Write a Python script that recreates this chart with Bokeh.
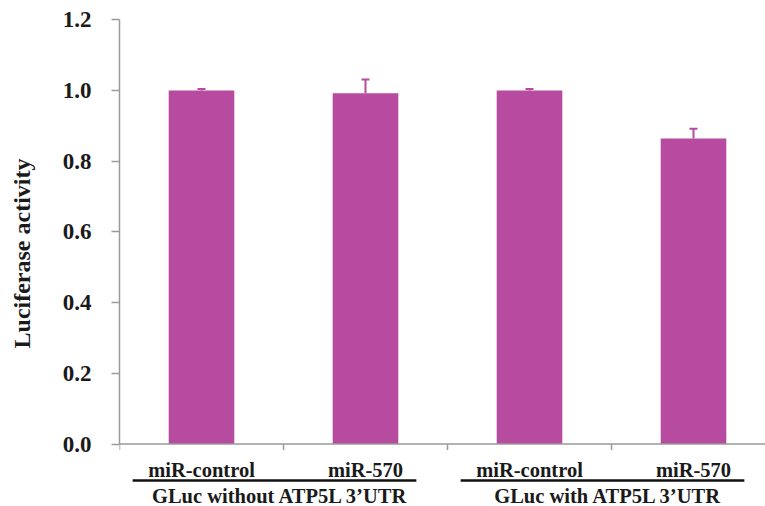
from bokeh.plotting import figure
from bokeh.models import Range1d, FixedTicker, ColumnDataSource, Whisker, TeeHead
from bokeh.core.properties import value
from bokeh.embed import file_html
from bokeh.resources import INLINE

# ---- data ----
categories = ["miR-control", "miR-570", "miR-control", "miR-570"]
groups = ["GLuc without ATP5L 3\u2019UTR", "GLuc with ATP5L 3\u2019UTR"]
group_members = [[0, 1], [2, 3]]
values = [1.0, 0.992, 1.0, 0.864]
errors = [0.004, 0.039, 0.004, 0.028]
y_ticks = [0.0, 0.2, 0.4, 0.6, 0.8, 1.0, 1.2]
y_tick_labels = ["0.0", "0.2", "0.4", "0.6", "0.8", "1.0", "1.2"]

BAR = "#B74B9F"
FONT = "Liberation Serif"
PX = 1.0 / 353.5  # one pixel in data units (y)

xs = [i + 0.5 for i in range(len(categories))]
X_END = 3.939

p = figure(width=765, height=506, output_backend="svg", toolbar_location=None,
           x_range=Range1d(0, X_END), y_range=Range1d(-0.1768, 1.2546),
           x_axis_location=None, min_border_left=119, min_border_right=0,
           min_border_top=0, min_border_bottom=0)
p.outline_line_color = None
p.xgrid.visible = False
p.ygrid.visible = False
p.background_fill_color = "white"
p.border_fill_color = "white"

# bars
p.vbar(x=xs, top=values, width=0.4, fill_color=BAR, line_color=None)

# error bars (upper only)
src = ColumnDataSource(dict(base=xs, lower=values,
                            upper=[v + e for v, e in zip(values, errors)]))
p.add_layout(Whisker(base="base", lower="lower", upper="upper", source=src,
                     line_color=BAR, line_width=2, lower_head=None,
                     upper_head=TeeHead(size=8, line_color=BAR, line_width=2)))

# y axis
ya = p.yaxis[0]
ya.ticker = FixedTicker(ticks=y_ticks)
ya.major_label_overrides = {t: l for t, l in zip(y_ticks, y_tick_labels)}
ya.bounds = (y_ticks[0], y_ticks[-1])
ya.axis_line_color = "#9a9a9a"
ya.axis_line_width = 1.5
ya.major_tick_line_color = "#9a9a9a"
ya.major_tick_line_width = 1.5
ya.major_tick_out = 8
ya.major_tick_in = 0
ya.minor_tick_out = 0
ya.minor_tick_in = 0
ya.major_label_standoff = 20
ya.major_label_text_font = FONT
ya.major_label_text_font_style = "bold"
ya.major_label_text_font_size = "23px"
ya.major_label_text_color = "#1a1a1a"
ya.axis_label = "Luciferase activity"
ya.axis_label_text_font = FONT
ya.axis_label_text_font_style = "bold"
ya.axis_label_text_font_size = "24px"
ya.axis_label_text_color = "#1a1a1a"
ya.axis_label_standoff = 25

# x axis line and boundary ticks
n = len(categories)
p.segment(x0=[0], y0=[0], x1=[X_END], y1=[0], line_color="#9a9a9a", line_width=1.5)
bounds_x = list(range(n))
p.segment(x0=bounds_x, y0=[0] * n, x1=bounds_x, y1=[-6 * PX] * n,
          line_color="#9a9a9a", line_width=1.5)

# category labels
p.text(x=xs, y=[-25.5 * PX] * n, text=categories, text_font=value(FONT),
       text_font_style="bold", text_font_size="20.5px", text_color="#1a1a1a",
       text_align="center", text_baseline="middle")

# group lines and labels
gx0 = [m[0] + 0.08 for m in group_members]
gx1 = [m[-1] + 1 - 0.19 for m in group_members]
gc = [(m[0] + m[-1] + 1) / 2.0 - 0.02 for m in group_members]
p.segment(x0=gx0, y0=[-36.5 * PX] * 2, x1=gx1, y1=[-36.5 * PX] * 2,
          line_color="#111111", line_width=2.5)
p.text(x=gc, y=[-51.5 * PX] * 2, text=groups, text_font=value(FONT),
       text_font_style="bold", text_font_size="20.5px", text_color="#1a1a1a",
       text_align="center", text_baseline="middle")

open("out.html", "w").write(file_html(p, INLINE))
